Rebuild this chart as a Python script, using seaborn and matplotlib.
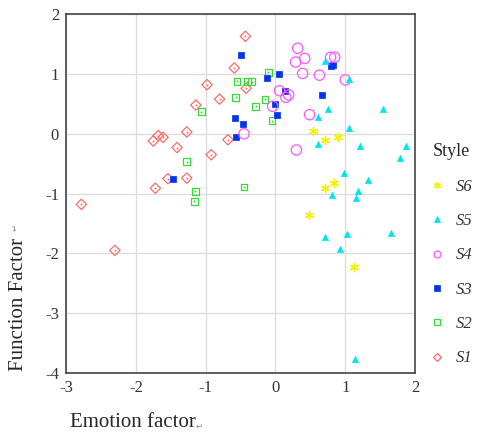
import matplotlib
matplotlib.use("Agg")
import matplotlib.pyplot as plt
from matplotlib.lines import Line2D
import seaborn as sns
import pandas as pd

# values (Emotion factor, Function Factor)
s1_x = [-0.59, -0.98, -0.80, -1.14, -0.68, -1.27, -1.75, -1.68, -1.61, -1.41, -0.92, -1.54, -1.27, -1.72, -2.78, -2.30, -0.43, -0.42]
s1_y = [1.10, 0.82, 0.58, 0.48, -0.10, 0.03, -0.12, -0.03, -0.06, -0.23, -0.35, -0.75, -0.74, -0.91, -1.18, -1.95, 1.63, 0.76]
s2_x = [-1.06, -1.27, -1.15, -1.16, -0.55, -0.57, -0.40, -0.34, -0.10, -0.15, -0.28, -0.05, -0.45]
s2_y = [0.37, -0.47, -0.96, -1.13, 0.88, 0.61, 0.87, 0.87, 1.03, 0.58, 0.46, 0.22, -0.89]
s3_x = [-1.47, -0.58, -0.56, -0.50, -0.12, 0.05, 0.14, -0.01, 0.02, -0.47, 0.67, 0.80, 0.82]
s3_y = [-0.75, 0.26, -0.06, 1.32, 0.93, 1.00, 0.71, 0.50, 0.32, 0.17, 0.65, 1.13, 1.15]
s4_x = [0.32, 0.29, 0.42, 0.79, 0.85, 0.39, 0.63, 1.00, 0.06, 0.15, 0.19, -0.04, 0.49, -0.45, 0.30]
s4_y = [1.43, 1.20, 1.26, 1.28, 1.28, 1.01, 0.98, 0.90, 0.72, 0.61, 0.65, 0.46, 0.32, 0.00, -0.27]
s5_x = [0.71, 1.05, 0.76, 1.54, 0.61, 1.05, 0.61, 1.21, 1.87, 1.79, 0.98, 1.32, 1.19, 1.16, 0.81, 0.71, 1.03, 1.65, 0.92, 1.14]
s5_y = [1.21, 0.92, 0.41, 0.41, 0.28, 0.10, -0.17, -0.20, -0.20, -0.41, -0.65, -0.77, -0.96, -1.07, -1.02, -1.73, -1.67, -1.66, -1.92, -3.77]
s6_x = [0.54, 0.71, 0.89, 0.71, 0.84, 0.48, 1.12]
s6_y = [0.04, -0.11, -0.06, -0.91, -0.82, -1.36, -2.23]

styles = ["S1", "S2", "S3", "S4", "S5", "S6"]
xs = [s1_x, s2_x, s3_x, s4_x, s5_x, s6_x]
ys = [s1_y, s2_y, s3_y, s4_y, s5_y, s6_y]

rows = []
for name, xx, yy in zip(styles, xs, ys):
    for a, b in zip(xx, yy):
        rows.append({"Emotion factor": a, "Function Factor": b, "Style": name})
df = pd.DataFrame(rows)

# marker look per style
look = {
    "S1": dict(marker="D", s=28, facecolor="none", edgecolor="#ff6b6b", lw=0.9, dot=True, ms=4.5),
    "S2": dict(marker="s", s=24, facecolor="none", edgecolor="#33dd33", lw=0.9, dot=True, ms=4.5),
    "S3": dict(marker="s", s=24, facecolor="#0033ee", edgecolor="#0033ee", lw=0.5, dot=False, ms=4),
    "S4": dict(marker="o", s=55, facecolor="none", edgecolor="#ff55ff", lw=0.9, dot=False, ms=5),
    "S5": dict(marker="^", s=20, facecolor="#00e5f0", edgecolor="#00e5f0", lw=0.5, dot=False, ms=4),
    "S6": dict(marker=(6, 2, 0), s=35, facecolor="#f2f200", edgecolor="#f2f200", lw=1.0, dot=False, ms=5),
}

sns.set_style("whitegrid")
plt.rcParams["font.family"] = ["Liberation Serif", "DejaVu Sans"]
plt.rcParams["axes.unicode_minus"] = False

fig = plt.figure(figsize=(4.82, 4.43), dpi=100)
ax = fig.add_axes([0.137, 0.158, 0.724, 0.81])

for name in styles:
    d = df[df["Style"] == name]
    lk = look[name]
    sns.scatterplot(data=d, x="Emotion factor", y="Function Factor", marker=lk["marker"],
                    s=lk["s"], facecolor=lk["facecolor"], edgecolor=lk["edgecolor"],
                    linewidth=lk["lw"], ax=ax, legend=False, zorder=3)
    if lk["dot"]:
        sns.scatterplot(data=d, x="Emotion factor", y="Function Factor", marker="o",
                        s=2, color=lk["edgecolor"], linewidth=0, ax=ax, legend=False, zorder=4)

ax.set_xlim(-3, 2)
ax.set_ylim(-4, 2)
ax.set_xticks([-3, -2, -1, 0, 1, 2])
ax.set_yticks([-4, -3, -2, -1, 0, 1, 2])
ax.grid(True, color="#dddddd", linewidth=1.0)
for sp in ax.spines.values():
    sp.set_color("#444444")
    sp.set_linewidth(1.2)
ax.tick_params(axis="both", direction="out", length=3, width=1.5, color="black",
               labelsize=12, labelcolor="#333333", pad=2)
ax.set_xlabel("")
ax.set_ylabel("")

fig.text(0.145, 0.025, "Emotion factor", fontsize=15, ha="left", va="bottom")
fig.text(0.405, 0.027, "\u21b5", fontsize=6, color="#888888", ha="left", va="bottom",
         family=["DejaVu Sans"])
fig.text(0.018, 0.313, "Function Factor", fontsize=15, rotation=90, ha="left", va="center")
fig.text(0.022, 0.478, "\u21b5", fontsize=6, color="#888888", rotation=90, ha="left",
         va="bottom", family=["DejaVu Sans"])

handles = []
for name in styles[::-1]:
    lk = look[name]
    handles.append(Line2D([], [], linestyle="none", marker=lk["marker"], markersize=lk["ms"],
                          markerfacecolor=lk["facecolor"], markeredgecolor=lk["edgecolor"],
                          markeredgewidth=lk["lw"], label=name))
leg = fig.legend(handles=handles, loc="upper left", bbox_to_anchor=(0.862, 0.71),
                 frameon=False, title="Style", fontsize=12, title_fontsize=13,
                 labelspacing=1.1, handlelength=0.8, handletextpad=0.7)
for t in leg.get_texts():
    t.set_fontstyle("italic")
    t.set_color("#333333")

fig.savefig("out.png", dpi=100)
